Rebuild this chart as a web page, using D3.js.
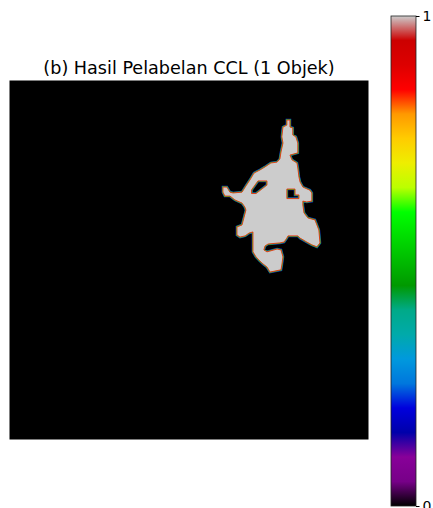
<!DOCTYPE html>
<html>
<head>
<meta charset="utf-8">
<script src="https://cdn.jsdelivr.net/npm/d3@7"></script>
<style>
  body { margin: 0; background: #fff; }
  text { font-family: "DejaVu Sans", sans-serif; fill: #000; }
</style>
</head>
<body>
<svg id="chart" width="433" height="508"></svg>
<script>
// label image size (pixels)
const imgSize = 128;

// outline of the single labelled object, [col, row] in image pixels
const blobOutline = [
  [98.9,14.1],[100.0,14.1],[100.0,16.6],[101.0,16.9],[101.0,19.4],[102.1,20.1],
  [102.8,22.3],[102.8,25.8],[100.0,26.6],[100.7,28.3],[102.5,29.4],[102.8,31.2],
  [103.2,34.4],[103.6,36.2],[104.6,38.0],[107.1,39.1],[107.8,40.1],[107.8,43.0],
  [106.0,43.3],[104.6,43.0],[104.6,44.4],[105.0,47.2],[106.4,49.0],[108.9,49.7],
  [109.6,51.5],[110.3,53.3],[110.7,57.9],[109.6,59.3],[107.8,58.6],[106.0,57.6],
  [103.6,56.2],[102.8,55.4],[99.3,55.4],[98.9,56.2],[97.9,57.6],[96.4,57.9],
  [92.2,58.3],[91.1,59.0],[90.7,60.4],[91.8,61.1],[95.4,60.1],[96.8,60.4],
  [97.5,62.9],[97.1,65.8],[96.8,67.5],[92.9,68.3],[91.8,66.5],[90.4,65.4],
  [89.3,64.4],[87.9,62.9],[86.8,61.1],[86.8,54.0],[85.4,54.4],[84.0,55.4],
  [82.2,55.8],[81.1,55.1],[81.1,52.2],[82.9,51.5],[83.2,50.4],[84.3,46.2],
  [83.9,45.1],[82.9,43.7],[80.4,42.6],[78.6,41.2],[76.8,41.2],[76.1,39.8],
  [76.1,38.0],[77.5,38.0],[78.6,39.8],[79.7,40.1],[82.9,39.8],[84.3,37.6],
  [85.7,35.5],[87.2,33.0],[89.3,31.9],[91.1,30.8],[93.2,29.4],[95.4,29.1],
  [96.4,28.0],[96.8,25.5],[97.5,22.3],[97.1,20.1],[97.5,16.6],[98.9,15.9]
];

// holes inside the object
const holeLeft = [[88.6,35.8],[91.8,35.8],[91.8,37.3],[87.9,40.3],[86.3,40.3],[86.3,39.0]];
const holeRight = [[98.9,38.7],[101.8,38.7],[101.8,40.8],[103.2,40.8],[103.2,42.1],[98.9,42.1]];

// nipy_spectral colormap, stops every 0.05
const cmapStops = d3.range(0, 1.0001, 0.05);
const cmapR = [0,0.4667,0.5333,0,0,0,0,0,0,0,0,0,0,0.7333,0.9333,1,1,1,0.8667,0.8,0.8];
const cmapG = [0,0,0,0,0,0.4667,0.6,0.6667,0.6667,0.6,0.7333,0.8667,1,1,0.9333,0.8,0.6,0,0,0,0.8];
const cmapB = [0,0.5333,0.6,0.6667,0.8667,0.8667,0.8667,0.6667,0.5333,0,0,0,0,0,0,0,0,0,0,0,0.8];

const cbarTicks = [0, 1];
const title = "(b) Hasil Pelabelan CCL (1 Objek)";

const svg = d3.select("#chart");

const x = d3.scaleLinear().domain([0, imgSize]).range([9.5, 368.5]);
const y = d3.scaleLinear().domain([0, imgSize]).range([80.5, 439.5]);

svg.append("rect")
  .attr("x", x(0)).attr("y", y(0))
  .attr("width", x(imgSize) - x(0)).attr("height", y(imgSize) - y(0))
  .attr("fill", "#000");

const line = d3.line().x(d => x(d[0])).y(d => y(d[1]));
const blobPath = [blobOutline, holeLeft, holeRight].map(r => line(r) + "Z").join("");

// colour fringe from interpolating through the colormap at the edges
svg.append("path").attr("d", blobPath).attr("fill", "none")
  .attr("stroke", "#1030d0").attr("stroke-width", 2.6);
svg.append("path").attr("d", blobPath).attr("fill", "none")
  .attr("stroke", "#20c020").attr("stroke-width", 1.8);
svg.append("path").attr("d", blobPath)
  .attr("fill", "#cccccc").attr("fill-rule", "evenodd");
svg.append("path").attr("d", blobPath).attr("fill", "none")
  .attr("stroke", "#e83010").attr("stroke-width", 0.9);

svg.append("text")
  .attr("x", (x(0) + x(imgSize)) / 2).attr("y", 74)
  .attr("text-anchor", "middle").attr("font-size", 17.6)
  .text(title);

// colorbar
const cb = d3.scaleLinear().domain([0, 1]).range([506, 16]);
const cbX = 391, cbW = 25;

const grad = svg.append("defs").append("linearGradient")
  .attr("id", "cmap").attr("x1", 0).attr("y1", 1).attr("x2", 0).attr("y2", 0);
grad.selectAll("stop").data(cmapStops).join("stop")
  .attr("offset", d => d)
  .attr("stop-color", (d, i) => d3.rgb(cmapR[i] * 255, cmapG[i] * 255, cmapB[i] * 255));

svg.append("rect")
  .attr("x", cbX).attr("y", cb(1))
  .attr("width", cbW).attr("height", cb(0) - cb(1))
  .attr("fill", "url(#cmap)")
  .attr("stroke", "#222").attr("stroke-width", 0.8);

const cbAxis = d3.axisRight(cb).tickValues(cbarTicks).tickFormat(d3.format("d"))
  .tickSize(3.5).tickPadding(3);
const g = svg.append("g").attr("transform", `translate(${cbX + cbW},0)`).call(cbAxis);
g.select(".domain").remove();
g.selectAll("text").attr("font-size", 14).attr("font-family", "DejaVu Sans");
</script>
</body>
</html>
